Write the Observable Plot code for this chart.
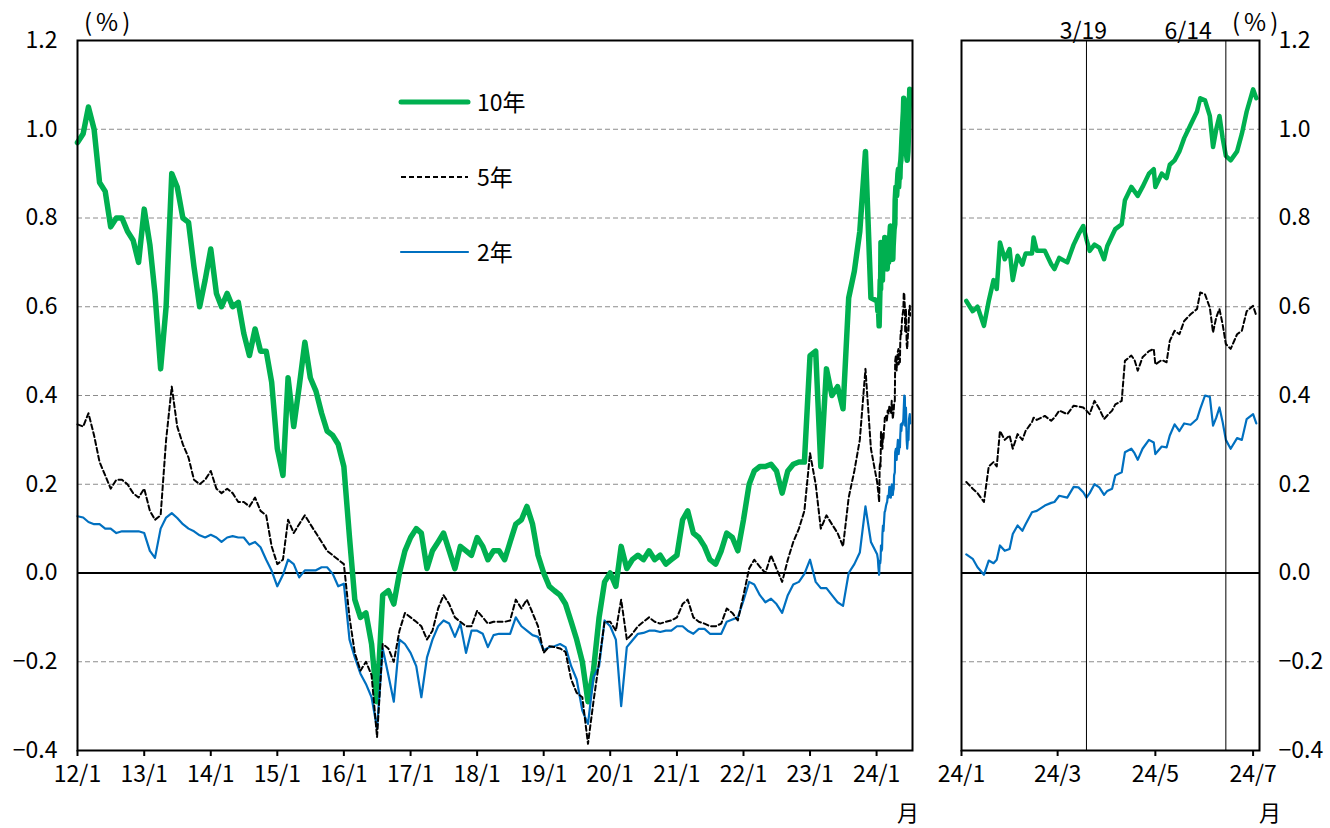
<!DOCTYPE html>
<html><head><meta charset="utf-8">
<script src="https://cdn.jsdelivr.net/npm/d3@7"></script>
<script src="https://cdn.jsdelivr.net/npm/@observablehq/plot@0.6"></script>
<style>
html,body{margin:0;padding:0;background:#fff;}
#wrap{position:relative;width:1330px;height:828px;overflow:hidden;color:#000;
  font-family:"Noto Sans CJK JP",sans-serif;}
.lbl{position:absolute;font-size:22px;line-height:1.2;white-space:nowrap;font-family:"Noto Sans CJK JP",sans-serif;}
#wrap svg{position:absolute;top:0;}
</style></head><body><div id="wrap"></div>
<script>
// ---------- DATA ----------
// Monthly readings, Jan 2012 .. Dec 2023 (first of each month)
const monthlyStart = "2012-01-01";
const monthlyEnd = "2024-01-01";
const tenYMonthly = [
  0.97,0.99,1.05,1.00,0.88,0.86,0.78,0.80,0.80,0.77,0.75,0.70,
  0.82,0.74,0.63,0.46,0.60,0.90,0.87,0.80,0.79,0.69,0.60,0.66,
  0.73,0.63,0.60,0.63,0.60,0.61,0.54,0.49,0.55,0.50,0.50,0.43,
  0.28,0.22,0.44,0.33,0.42,0.52,0.44,0.41,0.36,0.32,0.31,0.29,
  0.24,0.08,-0.06,-0.10,-0.09,-0.16,-0.29,-0.05,-0.04,-0.07,0.00,0.05,
  0.08,0.10,0.09,0.01,0.05,0.07,0.09,0.05,0.01,0.06,0.05,0.04,
  0.08,0.06,0.03,0.05,0.05,0.03,0.07,0.11,0.12,0.15,0.11,0.04,
  0.00,-0.03,-0.04,-0.05,-0.07,-0.11,-0.15,-0.20,-0.29,-0.22,-0.10,-0.02,
  0.00,-0.03,0.06,0.01,0.03,0.04,0.03,0.05,0.03,0.04,0.02,0.03,
  0.04,0.12,0.14,0.09,0.08,0.06,0.03,0.02,0.05,0.09,0.08,0.05,
  0.12,0.20,0.23,0.24,0.24,0.245,0.23,0.18,0.23,0.245,0.25,0.25,
  0.49,0.50,0.24,0.46,0.40,0.42,0.37,0.62,0.68,0.77,0.95,0.62
];
const fiveYMonthly = [
  0.335,0.33,0.36,0.31,0.25,0.22,0.19,0.21,0.21,0.20,0.18,0.17,
  0.19,0.14,0.12,0.13,0.30,0.42,0.33,0.29,0.26,0.21,0.20,0.21,
  0.23,0.19,0.18,0.19,0.18,0.16,0.16,0.15,0.17,0.14,0.13,0.06,
  0.02,0.03,0.12,0.09,0.11,0.13,0.11,0.09,0.07,0.05,0.04,0.03,
  0.02,-0.10,-0.18,-0.22,-0.20,-0.23,-0.37,-0.16,-0.17,-0.20,-0.13,-0.09,
  -0.10,-0.11,-0.12,-0.15,-0.13,-0.08,-0.05,-0.07,-0.10,-0.11,-0.12,-0.12,
  -0.085,-0.10,-0.114,-0.11,-0.11,-0.11,-0.107,-0.06,-0.08,-0.06,-0.09,-0.12,
  -0.18,-0.165,-0.167,-0.17,-0.178,-0.24,-0.27,-0.28,-0.385,-0.29,-0.20,-0.11,
  -0.11,-0.13,-0.06,-0.15,-0.137,-0.12,-0.11,-0.10,-0.11,-0.114,-0.11,-0.107,
  -0.10,-0.07,-0.06,-0.10,-0.11,-0.114,-0.12,-0.12,-0.114,-0.08,-0.09,-0.107,
  -0.05,0.01,0.03,0.014,0.00,0.04,0.01,-0.02,0.03,0.07,0.10,0.14,
  0.27,0.20,0.10,0.13,0.11,0.09,0.06,0.17,0.23,0.30,0.46,0.28
];
const twoYMonthly = [
  0.128,0.125,0.115,0.11,0.11,0.10,0.10,0.09,0.094,0.094,0.094,0.094,
  0.09,0.05,0.034,0.10,0.125,0.135,0.124,0.11,0.10,0.094,0.085,0.08,
  0.086,0.08,0.07,0.08,0.083,0.08,0.08,0.064,0.07,0.058,0.03,0.005,
  -0.03,-0.004,0.03,0.02,-0.01,0.006,0.006,0.006,0.013,0.013,-0.002,-0.03,
  -0.024,-0.15,-0.19,-0.227,-0.25,-0.28,-0.35,-0.17,-0.23,-0.29,-0.15,-0.16,
  -0.18,-0.21,-0.28,-0.19,-0.15,-0.12,-0.107,-0.114,-0.144,-0.114,-0.18,-0.13,
  -0.13,-0.137,-0.167,-0.14,-0.137,-0.137,-0.137,-0.10,-0.12,-0.13,-0.14,-0.144,
  -0.174,-0.167,-0.165,-0.16,-0.167,-0.21,-0.24,-0.31,-0.34,-0.235,-0.21,-0.107,
  -0.12,-0.15,-0.30,-0.167,-0.152,-0.137,-0.135,-0.13,-0.13,-0.133,-0.13,-0.13,
  -0.12,-0.12,-0.13,-0.137,-0.126,-0.126,-0.137,-0.137,-0.137,-0.11,-0.105,-0.10,
  -0.062,-0.02,-0.026,-0.05,-0.066,-0.058,-0.07,-0.09,-0.05,-0.026,-0.02,-0.002,
  0.03,-0.02,-0.034,-0.034,-0.05,-0.066,-0.074,0.00,0.02,0.046,0.15,0.07
];
// Detailed readings for 2024 (used by both panels)
const dates2024 = [
  "2024-01-04","2024-01-08","2024-01-11","2024-01-15","2024-01-18","2024-01-21","2024-01-23","2024-01-25","2024-01-28","2024-01-31",
  "2024-02-02","2024-02-05","2024-02-08","2024-02-10","2024-02-14","2024-02-15","2024-02-17","2024-02-22","2024-02-26","2024-02-28",
  "2024-03-02","2024-03-07","2024-03-11","2024-03-14","2024-03-17","2024-03-19","2024-03-21","2024-03-24","2024-03-27","2024-03-30",
  "2024-04-01","2024-04-04","2024-04-06","2024-04-10","2024-04-12","2024-04-16","2024-04-18","2024-04-20","2024-04-23","2024-04-27",
  "2024-04-30","2024-05-01","2024-05-05","2024-05-08","2024-05-10","2024-05-13","2024-05-16","2024-05-19","2024-05-23","2024-05-27",
  "2024-05-29","2024-06-01","2024-06-04","2024-06-06","2024-06-08","2024-06-10","2024-06-12","2024-06-14","2024-06-17","2024-06-21",
  "2024-06-24","2024-06-27","2024-07-01","2024-07-03"
];
const tenY2024 = [
  0.613,0.59,0.60,0.557,0.613,0.66,0.64,0.745,0.707,0.73,
  0.66,0.715,0.695,0.72,0.72,0.756,0.726,0.726,0.696,0.685,
  0.71,0.70,0.74,0.763,0.782,0.752,0.726,0.74,0.733,0.707,
  0.737,0.76,0.775,0.786,0.84,0.87,0.86,0.85,0.87,0.90,
  0.91,0.87,0.90,0.89,0.92,0.93,0.95,0.98,1.01,1.04,
  1.07,1.065,1.03,0.96,1.00,1.03,0.98,0.94,0.93,0.95,
  0.99,1.04,1.09,1.07
];
const fiveY2024 = [
  0.205,0.19,0.18,0.16,0.24,0.25,0.24,0.32,0.30,0.31,
  0.28,0.313,0.30,0.32,0.34,0.35,0.345,0.354,0.343,0.35,
  0.366,0.358,0.377,0.375,0.373,0.366,0.358,0.388,0.37,0.347,
  0.355,0.366,0.38,0.388,0.478,0.49,0.48,0.456,0.486,0.50,
  0.505,0.47,0.48,0.475,0.523,0.546,0.538,0.568,0.583,0.595,
  0.632,0.628,0.598,0.542,0.576,0.595,0.56,0.516,0.505,0.538,
  0.546,0.59,0.602,0.58
];
const twoY2024 = [
  0.042,0.032,0.013,-0.004,0.028,0.022,0.03,0.062,0.05,0.054,
  0.088,0.107,0.095,0.11,0.137,0.138,0.14,0.152,0.158,0.16,
  0.174,0.17,0.194,0.193,0.182,0.17,0.18,0.20,0.193,0.176,
  0.185,0.19,0.22,0.227,0.272,0.28,0.27,0.255,0.28,0.30,
  0.294,0.268,0.285,0.283,0.31,0.335,0.32,0.337,0.334,0.347,
  0.37,0.40,0.397,0.332,0.35,0.373,0.34,0.30,0.28,0.304,
  0.30,0.347,0.358,0.337
];
const seriesNames = ["10年","5年","2年"];
const yTicks = [-0.4,-0.2,0,0.2,0.4,0.6,0.8,1.0,1.2];
const gridLevels = [-0.2,0.2,0.4,0.6,0.8,1.0];
const leftTickDates = ["2012-01-01","2013-01-01","2014-01-01","2015-01-01","2016-01-01","2017-01-01","2018-01-01","2019-01-01","2020-01-01","2021-01-01","2022-01-01","2023-01-01","2024-01-01"];
const rightTickDates = ["2024-01-01","2024-03-01","2024-05-01","2024-07-01"];
const eventDates = ["2024-03-19","2024-06-14"];
const eventLabels = ["3/19","6/14"];

// ---------- BUILD ----------
const FONT = '"Noto Sans CJK JP",sans-serif';
const GREEN = "#00B050", BLUE = "#0070C0";
const months = d3.utcMonth.range(new Date(monthlyStart), new Date(monthlyEnd));
const d24 = dates2024.map(s => new Date(s));
function rows(monthly, recent) {
  return months.map((d,i)=>({date:d, v:monthly[i]})).concat(d24.map((d,i)=>({date:d, v:recent[i]})));
}
function rows24(recent) { return d24.map((d,i)=>({date:d, v:recent[i]})); }
const fmtY = d => (d < 0 ? "\u2212" : "") + Math.abs(d).toFixed(1);
const fmtX = d => `${d.getUTCFullYear()%100}/${d.getUTCMonth()+1}`;
const leftTicks = leftTickDates.map(s => new Date(s));
const rightTicks = rightTickDates.map(s => new Date(s));

function panelMarks(d10, d5, d2, greenW) {
  return [
    Plot.ruleY(gridLevels, {stroke:"#8c8c8c", strokeWidth:1, strokeDasharray:"5,3"}),
    Plot.ruleY([0], {stroke:"#000", strokeWidth:2}),
    Plot.line(d10, {x:"date", y:"v", stroke:GREEN, strokeWidth:greenW, strokeLinejoin:"round", strokeLinecap:"round"}),
    Plot.line(d2, {x:"date", y:"v", stroke:BLUE, strokeWidth:2.2, strokeLinejoin:"round"}),
    Plot.line(d5, {x:"date", y:"v", stroke:"#000", strokeWidth:2, strokeDasharray:"5,3"}),
  ];
}
const plotStyle = {fontFamily: FONT, fontSize: "23px", background: "transparent", color:"#000", overflow:"visible"};

const left = Plot.plot({
  width: 930, height: 828,
  marginLeft: 77, marginRight: 18, marginTop: 40, marginBottom: 78,
  style: plotStyle,
  x: {type:"utc", domain:[new Date("2012-01-01"), new Date("2024-07-16")]},
  y: {domain:[-0.4,1.2]},
  marks: [
    ...panelMarks(rows(tenYMonthly, tenY2024), rows(fiveYMonthly, fiveY2024), rows(twoYMonthly, twoY2024), 5.5),
    Plot.frame({stroke:"#000", strokeWidth:2}),
    Plot.axisY({ticks: yTicks, tickFormat: fmtY, tickSize:0, tickPadding:20, label:null, fontSize:23}),
    Plot.axisX({ticks: leftTicks, tickFormat: fmtX, tickSize:6, tickPadding:9, strokeWidth:2, label:null, fontSize:23})
  ]
});
left.style.left = "0px";

const right = Plot.plot({
  width: 400, height: 828,
  marginLeft: 31, marginRight: 71, marginTop: 40, marginBottom: 78,
  style: plotStyle,
  x: {type:"utc", domain:[new Date("2024-01-01"), new Date("2024-07-05")]},
  y: {domain:[-0.4,1.2]},
  marks: [
    ...panelMarks(rows24(tenY2024), rows24(fiveY2024), rows24(twoY2024), 4.5),
    Plot.ruleX(eventDates.map(s=>new Date(s)), {stroke:"#000", strokeWidth:1}),
    Plot.text([0], {x: () => new Date(eventDates[0]), text: () => eventLabels[0], frameAnchor:"top", dy:-18, textAnchor:"middle", dx:-3, fontSize:23}),
    Plot.text([1], {x: () => new Date(eventDates[1]), text: () => eventLabels[1], frameAnchor:"top", dy:-18, textAnchor:"end", dx:-14, fontSize:23}),
    Plot.frame({stroke:"#000", strokeWidth:2}),
    Plot.axisY({anchor:"right", ticks: yTicks, tickFormat: fmtY, tickSize:0, tickPadding:19, label:null, fontSize:23}),
    Plot.axisX({ticks: rightTicks, tickFormat: fmtX, tickSize:6, tickPadding:9, strokeWidth:2, label:null, fontSize:23})
  ]
});
right.style.left = "930px";

const wrap = document.getElementById("wrap");
wrap.appendChild(left);
wrap.appendChild(right);

function addLabel(text, x, y, anchor, size, spacing) {
  const el = document.createElement("div");
  el.className = "lbl";
  el.textContent = text;
  el.style.left = x + "px";
  el.style.top = y + "px";
  if (size) el.style.fontSize = size + "px";
  if (spacing) el.style.letterSpacing = spacing + "px";
  el.style.transform = anchor === "middle" ? "translate(-50%,-50%)" : "translate(0,-50%)";
  wrap.appendChild(el);
}
addLabel("(%)", 84, 21, null, 24, 4);
addLabel("(%)", 1232, 21, null, 24, 4);
addLabel("月", 908, 811, "middle", 22);
addLabel("月", 1270, 811, "middle", 22);

// legend
const legend = [
  {name: seriesNames[0], color: GREEN, w: 5, dash: null, y: 102},
  {name: seriesNames[1], color: "#000", w: 2, dash: "5,3", y: 177},
  {name: seriesNames[2], color: BLUE, w: 2.2, dash: null, y: 252}
];
const lsvg = d3.create("svg").attr("width", 80).attr("height", 200)
  .style("left","395px").style("top","80px");
legend.forEach(l => {
  lsvg.append("line").attr("x1",6).attr("x2",73).attr("y1",l.y-80).attr("y2",l.y-80)
    .attr("stroke",l.color).attr("stroke-width",l.w).attr("stroke-linecap", l.dash ? "butt" : "round")
    .attr("stroke-dasharray", l.dash);
  addLabel(l.name, 477, l.y, null, 23);
});
wrap.appendChild(lsvg.node());
</script></body></html>
